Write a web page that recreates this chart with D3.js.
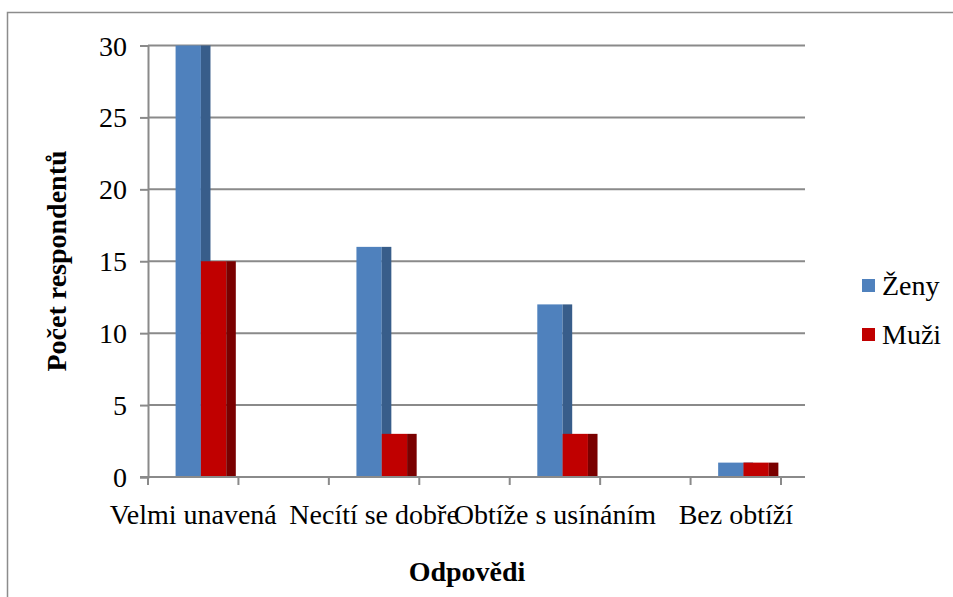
<!DOCTYPE html>
<html>
<head>
<meta charset="utf-8">
<script src="https://cdn.jsdelivr.net/npm/d3@7"></script>
<style>
  html, body { margin: 0; padding: 0; background: #fff; }
  svg { display: block; }
</style>
</head>
<body>
<svg id="chart" width="953" height="597"></svg>
<script>
// Category slots (blank slots keep the spacing between answer groups)
const categories = ["Velmi unavená", "", "Necítí se dobře", "", "Obtíže s usínáním", "", "Bez obtíží"];
const zeny = [30, null, 16, null, 12, null, 1];
const muzi = [15, null, 3, null, 3, null, 1];
const seriesNames = ["Ženy", "Muži"];
const yTicks = [0, 5, 10, 15, 20, 25, 30];

const colors = {
  "Ženy": { front: "#4f81bd", side: "#385d8a" },
  "Muži": { front: "#c00000", side: "#7a0000" }
};

const FONT = "'Liberation Serif', 'Times New Roman', serif";
const FS = "28px";

const svg = d3.select("#chart");

// Outer chart frame
svg.append("rect")
  .attr("x", 7.5).attr("y", 12.5)
  .attr("width", 980).attr("height", 620)
  .attr("fill", "none").attr("stroke", "#8c8c8c").attr("stroke-width", 1.5);

const plotLeft = 148, plotRight = 781, wallRight = 805, plotTop = 45.5, plotBottom = 477;

const x = d3.scaleBand()
  .domain(d3.range(categories.length))
  .range([plotLeft, plotRight])
  .paddingInner(0).paddingOuter(0);

const y = d3.scaleLinear().domain([0, 30]).range([plotBottom, plotTop]);

// Horizontal gridlines
svg.append("g").selectAll("line")
  .data(yTicks)
  .join("line")
  .attr("x1", plotLeft).attr("x2", wallRight)
  .attr("y1", d => y(d)).attr("y2", d => y(d))
  .attr("stroke", "#8a8a8a").attr("stroke-width", 2);

// Value axis
const yAxis = svg.append("g")
  .attr("transform", `translate(${plotLeft},0)`)
  .call(d3.axisLeft(y).tickValues(yTicks).tickSize(8).tickPadding(13).tickFormat(d3.format("d")));
yAxis.attr("font-family", null).attr("font-size", null);
yAxis.select(".domain").attr("stroke", "#8a8a8a").attr("stroke-width", 2);
yAxis.selectAll(".tick line").attr("stroke", "#8a8a8a").attr("stroke-width", 2);
yAxis.selectAll(".tick text")
  .attr("dy", "0.34em")
  .style("font-family", FONT)
  .style("font-size", FS).attr("fill", "#000");

// Bars: front face plus a darker side face for depth
const bw = x.bandwidth();
const offset = 0.305 * bw, barW = 0.28 * bw, sideW = 0.106 * bw;
const seriesData = [zeny, muzi];

seriesData.forEach((vals, si) => {
  const name = seriesNames[si];
  const pts = vals.map((v, i) => ({ i, v })).filter(d => d.v != null);
  const g = svg.append("g");
  g.selectAll("rect.front")
    .data(pts).join("rect")
    .attr("class", "front")
    .attr("x", d => x(d.i) + offset + si * barW)
    .attr("y", d => y(d.v))
    .attr("width", barW)
    .attr("height", d => y(0) - y(d.v))
    .attr("fill", colors[name].front);
  g.selectAll("rect.side")
    .data(pts).join("rect")
    .attr("class", "side")
    .attr("x", d => x(d.i) + offset + (si + 1) * barW)
    .attr("y", d => y(d.v))
    .attr("width", sideW)
    .attr("height", d => y(0) - y(d.v))
    .attr("fill", colors[name].side);
});

// Category axis baseline and boundary ticks
svg.append("line")
  .attr("x1", plotLeft - 8).attr("x2", wallRight)
  .attr("y1", plotBottom).attr("y2", plotBottom)
  .attr("stroke", "#8a8a8a").attr("stroke-width", 2);
svg.append("g").selectAll("line")
  .data(d3.range(categories.length + 1))
  .join("line")
  .attr("x1", d => plotLeft + d * x.step()).attr("x2", d => plotLeft + d * x.step())
  .attr("y1", plotBottom).attr("y2", plotBottom + 8)
  .attr("stroke", "#8a8a8a").attr("stroke-width", 2);

svg.append("g").selectAll("text")
  .data(categories.map((c, i) => ({ c, i })).filter(d => d.c))
  .join("text")
  .attr("x", d => x(d.i) + bw / 2)
  .attr("y", 524)
  .attr("text-anchor", "middle")
  .style("font-family", FONT)
  .style("font-size", FS)
  .attr("fill", "#000")
  .text(d => d.c);

// Axis titles
svg.append("text")
  .attr("x", 467).attr("y", 581)
  .attr("text-anchor", "middle")
  .style("font-family", FONT)
  .style("font-size", FS).style("font-weight", "bold")
  .text("Odpovědi");

svg.append("text")
  .attr("transform", "translate(66,261) rotate(-90)")
  .attr("text-anchor", "middle")
  .style("font-family", FONT)
  .style("font-size", FS).style("font-weight", "bold")
  .text("Počet respondentů");

// Legend
const legend = svg.append("g").selectAll("g")
  .data(seriesNames)
  .join("g")
  .attr("transform", (d, i) => `translate(862,${279 + i * 49})`);
legend.append("rect")
  .attr("width", 13).attr("height", 13)
  .attr("fill", d => colors[d].front);
legend.append("text")
  .attr("x", 20).attr("y", 16)
  .style("font-family", FONT)
  .style("font-size", FS)
  .attr("fill", "#000")
  .text(d => d);
</script>
</body>
</html>
